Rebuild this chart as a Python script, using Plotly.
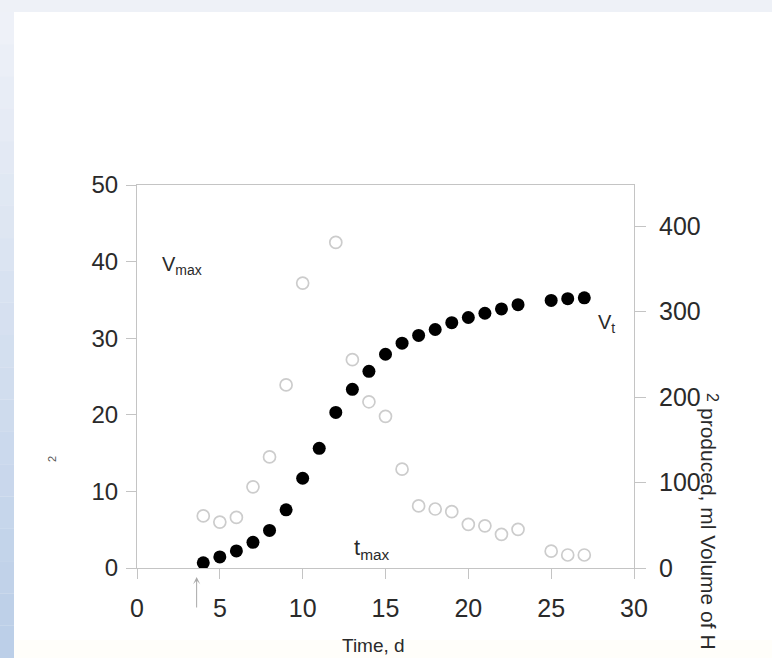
import plotly.graph_objects as go

# ---- data ----
days_rate = [4, 5, 6, 7, 8, 9, 10, 12, 13, 14, 15, 16, 17, 18, 19, 20, 21, 22, 23, 25, 26, 27]
rate = [6.8, 6.0, 6.6, 10.6, 14.5, 23.9, 37.2, 42.5, 27.2, 21.7, 19.8, 12.9, 8.1, 7.7, 7.35,
        5.7, 5.5, 4.4, 5.05, 2.2, 1.7, 1.7]

days_vol = [4, 5, 6, 7, 8, 9, 10, 11, 12, 13, 14, 15, 16, 17, 18, 19, 20, 21, 22, 23, 25, 26, 27]
volume = [6, 13, 20, 30, 44, 68, 105, 140, 182, 209, 230, 250, 263, 272, 279, 287, 293, 298,
          303, 308, 313, 315, 316]

x_ticks = [0, 5, 10, 15, 20, 25, 30]
y_left_ticks = [0, 10, 20, 30, 40, 50]
y_right_ticks = [0, 100, 200, 300, 400]

W, H = 772, 658
L, R, T, B = 137, 138, 185, 90
FONT = "Liberation Sans, Arial, sans-serif"
AX = "#c4c4c4"
TXT = "#2a2a2a"


def px(xp):
    return (xp - L) / (W - L - R)


def py(yp):
    return (H - B - yp) / (H - T - B)


fig = go.Figure()
fig.add_trace(go.Scatter(
    x=days_rate, y=rate, mode="markers", yaxis="y",
    marker=dict(symbol="circle-open", size=12, color="#cccccc", line=dict(width=1.7, color="#cccccc")),
    showlegend=False, hoverinfo="x+y"))
fig.add_trace(go.Scatter(
    x=days_vol, y=volume, mode="markers", yaxis="y2",
    marker=dict(symbol="circle", size=13, color="#000000"),
    showlegend=False, hoverinfo="x+y"))

shapes = []
# page frame
shapes.append(dict(type="rect", xref="paper", yref="paper", x0=px(0), x1=px(W), y0=py(H), y1=py(0),
                   fillcolor="#eef1f7", line=dict(width=0), layer="below"))
# left gradient strip
n = 20
for i in range(n):
    t = i / (n - 1)
    r = int(0xee + (0xbc - 0xee) * t)
    g = int(0xf1 + (0xcf - 0xf1) * t)
    b = int(0xf8 + (0xe8 - 0xf8) * t)
    y0 = 12 + (H - 12) * i / n
    y1 = 12 + (H - 12) * (i + 1) / n
    shapes.append(dict(type="rect", xref="paper", yref="paper", x0=px(0), x1=px(14),
                       y0=py(y1), y1=py(y0), fillcolor=f"rgb({r},{g},{b})",
                       line=dict(width=0), layer="below"))
# white panel
shapes.append(dict(type="rect", xref="paper", yref="paper", x0=px(14), x1=px(W), y0=py(H), y1=py(12),
                   fillcolor="#ffffff", line=dict(width=0), layer="below"))
shapes.append(dict(type="rect", xref="paper", yref="paper", x0=px(14), x1=px(W), y0=py(H), y1=py(640),
                   fillcolor="#fffefa", line=dict(width=0), layer="below"))


def label(text, x, y, size, angle=0, color=TXT):
    return dict(text=text, xref="paper", yref="paper", x=px(x), y=py(y),
                xanchor="center", yanchor="middle", textangle=angle,
                showarrow=False, font=dict(family=FONT, size=size, color=color))


annotations = [
    label("V<sub>max</sub>", 182, 265, 20),
    label("t<sub>max</sub>", 372, 549, 22),
    label("V<sub>t</sub>", 606, 323, 20),
    label("Time, d", 373, 645, 19),
    label("produced, ml Volume of H", 709, 529, 21, angle=90),
    label("2", 713, 397, 16, angle=90),
    label("2", 52, 459, 11, angle=-90, color="#555555"),
    dict(text="", x=3.6, xref="x", y=py(577), yref="paper",
         ax=0, ay=32, axref="pixel", ayref="pixel",
         showarrow=True, arrowhead=3, arrowsize=1.2, arrowwidth=1, arrowcolor="#a8a8a8"),
]

fig.update_layout(
    width=W, height=H,
    margin=dict(l=L, r=R, t=T, b=B, pad=0),
    paper_bgcolor="#ffffff", plot_bgcolor="#ffffff",
    shapes=shapes, annotations=annotations,
    xaxis=dict(range=[0, 30], tickvals=x_ticks, ticks="outside", ticklen=10, tickcolor=AX,
               showline=True, linecolor=AX, linewidth=1, mirror=True, showgrid=False,
               zeroline=False, ticklabelstandoff=8,
               tickfont=dict(family=FONT, size=25, color=TXT), fixedrange=True),
    yaxis=dict(range=[0, 50], tickvals=y_left_ticks, ticks="outside", ticklen=10, tickcolor=AX,
               showline=True, linecolor=AX, linewidth=1, showgrid=False, zeroline=False,
               ticklabelstandoff=3,
               tickfont=dict(family=FONT, size=24, color=TXT), fixedrange=True),
    yaxis2=dict(range=[0, 448], tickvals=y_right_ticks, ticks="outside", ticklen=11, tickcolor=AX,
                overlaying="y", side="right", showline=True, linecolor=AX, linewidth=1,
                showgrid=False, zeroline=False, ticklabelstandoff=8,
                tickfont=dict(family=FONT, size=25, color=TXT), fixedrange=True),
)

fig.write_html("out.html", config={"displayModeBar": False},
               post_script="document.body.style.margin='0';")
